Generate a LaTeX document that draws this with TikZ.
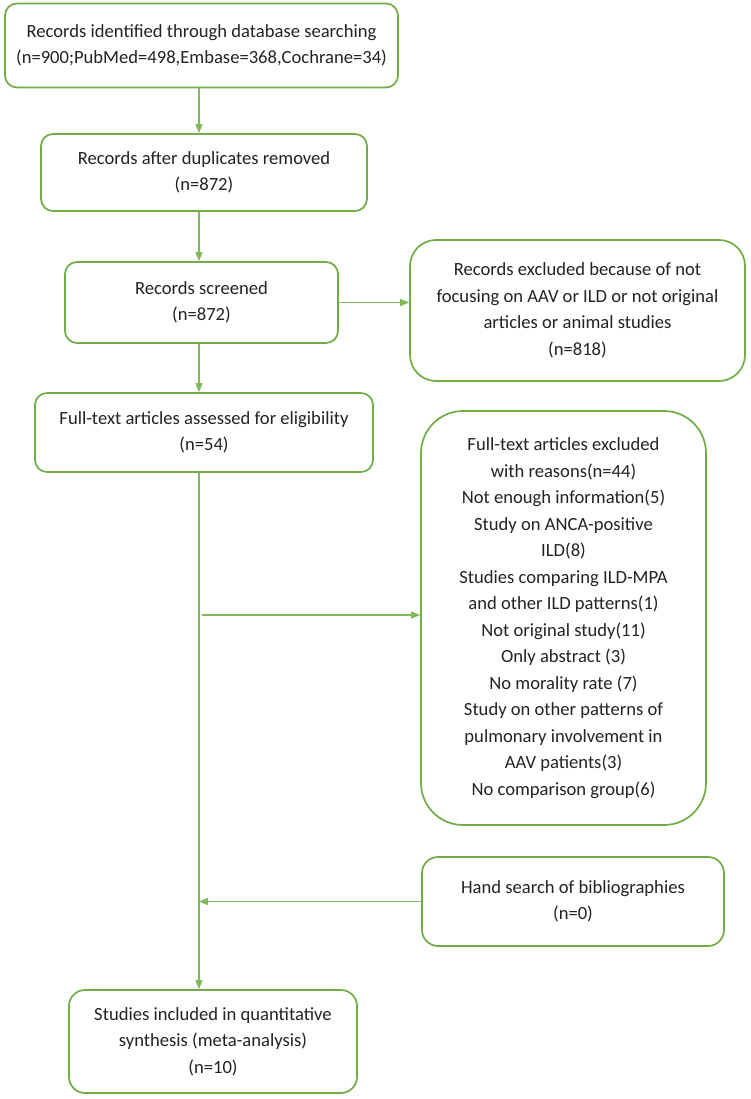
\documentclass[tikz,border=0pt]{standalone}
\usepackage{fontspec}
\setmainfont{Carlito}
\usetikzlibrary{arrows.meta}
\definecolor{gbox}{RGB}{112,173,71}
\definecolor{garr}{RGB}{128,186,90}
\definecolor{txt}{RGB}{35,35,35}
\begin{document}
\begin{tikzpicture}[x=1pt,y=-1pt,
  box/.style={draw=gbox, line width=1.7pt, rounded corners=#1, align=center,
    text=txt, font=\fontsize{18.6}{26.5}\selectfont, inner sep=0pt},
  box/.default=12pt,
  arr/.style={draw=garr, line width=1.1pt, -{Triangle[length=9pt,width=7pt]}},
  ln/.style={draw=garr, line width=1.1pt}]
\useasboundingbox[fill=white] (0,0) rectangle (750,1099);
\coordinate (X) at (199,0);

\node[box, minimum width=393pt, minimum height=84pt] (b1) at (201.5,45.5)
  {Records identified through database searching\\(n=900;PubMed=498,Embase=368,Cochrane=34)};
\node[box, minimum width=326pt, minimum height=77pt] (b2) at (204,172.5)
  {Records after duplicates removed\\(n=872)};
\node[box, minimum width=273pt, minimum height=81pt] (b3) at (201.5,302.5)
  {Records screened\\(n=872)};
\node[box=26pt, minimum width=335pt, minimum height=141pt] (b4) at (577.5,310.5)
  {Records excluded because of not\\focusing on AAV or ILD or not original\\articles or animal studies\\(n=818)};
\node[box, minimum width=338pt, minimum height=79pt] (b5) at (204,432.5)
  {Full-text articles assessed for eligibility\\(n=54)};
\node[box=42pt, minimum width=285pt, minimum height=414pt] (b6) at (563.5,618)
  {Full-text articles excluded\\with reasons(n=44)\\Not enough information(5)\\Study on ANCA-positive\\ILD(8)\\Studies comparing ILD-MPA\\and other ILD patterns(1)\\Not original study(11)\\Only abstract (3)\\No morality rate (7)\\Study on other patterns of\\pulmonary involvement in\\AAV patients(3)\\No comparison group(6)};
\node[box=16pt, minimum width=302pt, minimum height=89pt] (b7) at (573,901.5)
  {Hand search of bibliographies\\(n=0)};
\node[box=16pt, minimum width=288pt, minimum height=103pt] (b8) at (213,1041.5)
  {Studies included in quantitative\\synthesis (meta-analysis)\\(n=10)};

\coordinate (m1) at (202,615);
\coordinate (m2) at (199,901.5);

\draw[arr] (b1.south -| X) -- (b2.north -| X);
\draw[arr] (b2.south -| X) -- (b3.north -| X);
\draw[arr] (b3.east) -- (b4.west |- b3.east);
\draw[arr] (b3.south -| X) -- (b5.north -| X);
\draw[arr] (b5.south -| X) -- (b8.north -| X);
\draw[arr] (m1) -- (b6.west |- m1);
\draw[arr] (b7.west) -- (m2);
\end{tikzpicture}
\end{document}
